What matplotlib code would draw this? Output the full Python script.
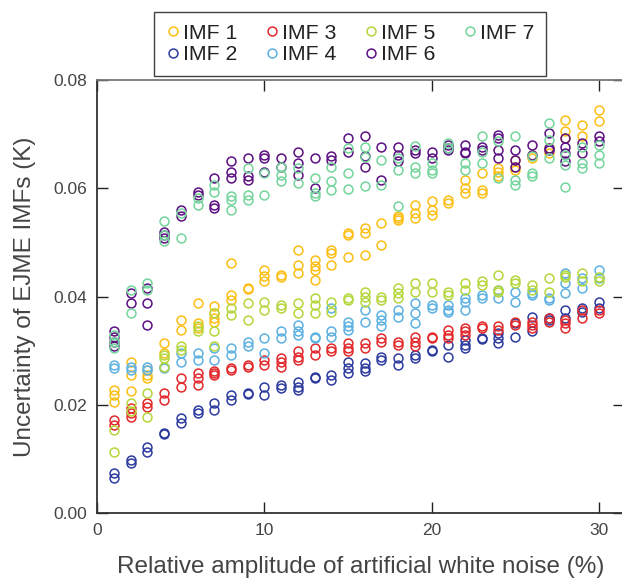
import matplotlib
matplotlib.use("Agg")
import matplotlib.pyplot as plt

plt.rcParams["font.family"] = ["Liberation Sans", "DejaVu Sans"]

# Noise levels (%) at which the ensemble was evaluated
noise_pct = [1, 2, 3, 4, 5, 6, 7, 8, 9, 10, 11, 12, 13, 14, 15,
             16, 17, 18, 19, 20, 21, 22, 23, 24, 25, 26, 27, 28, 29, 30]

# Uncertainty (K) of each IMF, repeated runs per noise level
imf1 = [
    [0.0228, 0.0219, 0.0206], [0.0280, 0.0256, 0.0225], [0.0265, 0.0256, 0.0250],
    [0.0315, 0.0296], [0.0357, 0.0339], [0.0389, 0.0352, 0.0342],
    [0.0382, 0.0370, 0.0361, 0.0354], [0.0462, 0.0403, 0.0394], [0.0416, 0.0414],
    [0.0450, 0.0438, 0.0428], [0.0440, 0.0437], [0.0486, 0.0459, 0.0444],
    [0.0468, 0.0456, 0.0450, 0.0431], [0.0486, 0.0481, 0.0459], [0.0518, 0.0514, 0.0474],
    [0.0527, 0.0518, 0.0477], [0.0536, 0.0496], [0.0548, 0.0545, 0.0542],
    [0.0570, 0.0555, 0.0546], [0.0576, 0.0560, 0.0551], [0.0579, 0.0573],
    [0.0616, 0.0601, 0.0592], [0.0629, 0.0597, 0.0592], [0.0638, 0.0631, 0.0622],
    [0.0653, 0.0640, 0.0634], [0.0662, 0.0656], [0.0675, 0.0665],
    [0.0727, 0.0705, 0.0693], [0.0717, 0.0696], [0.0745, 0.0724],
]
imf2 = [
    [0.0074, 0.0065], [0.0098, 0.0093], [0.0123, 0.0114], [0.0148, 0.0146],
    [0.0176, 0.0167], [0.0191, 0.0185], [0.0204, 0.0191], [0.0219, 0.0209],
    [0.0222, 0.0220], [0.0234, 0.0219], [0.0237, 0.0232], [0.0243, 0.0234, 0.0228],
    [0.0252, 0.0250], [0.0256, 0.0246], [0.0280, 0.0268, 0.0259],
    [0.0278, 0.0268, 0.0262], [0.0289, 0.0283], [0.0287, 0.0274], [0.0292, 0.0287],
    [0.0302, 0.0299], [0.0311, 0.0289], [0.0320, 0.0311, 0.0305], [0.0324, 0.0322],
    [0.0333, 0.0324, 0.0315], [0.0352, 0.0326], [0.0363, 0.0336], [0.0361, 0.0357],
    [0.0376, 0.0361], [0.0379, 0.0372], [0.0391, 0.0379],
]
imf3 = [
    [0.0172, 0.0163], [0.0195, 0.0185, 0.0178], [0.0204, 0.0197], [0.0222, 0.0209],
    [0.0250, 0.0234], [0.0259, 0.0250, 0.0237], [0.0262, 0.0259, 0.0256],
    [0.0268, 0.0265], [0.0274, 0.0271], [0.0283, 0.0274], [0.0287, 0.0280, 0.0271],
    [0.0299, 0.0289, 0.0283], [0.0305, 0.0292], [0.0305, 0.0299],
    [0.0315, 0.0305, 0.0299], [0.0315, 0.0305], [0.0324, 0.0317], [0.0317, 0.0311],
    [0.0326, 0.0317, 0.0308], [0.0326, 0.0324], [0.0339, 0.0329, 0.0324],
    [0.0342, 0.0336, 0.0329], [0.0345, 0.0342], [0.0345, 0.0339], [0.0354, 0.0348],
    [0.0354, 0.0348, 0.0342], [0.0361, 0.0354], [0.0357, 0.0352, 0.0342],
    [0.0376, 0.0361], [0.0376, 0.0370],
]
imf4 = [
    [0.0274, 0.0268], [0.0271, 0.0265], [0.0271, 0.0265], [0.0271, 0.0268],
    [0.0296, 0.0280], [0.0296, 0.0283], [0.0305, 0.0283], [0.0305, 0.0292],
    [0.0317, 0.0308], [0.0324, 0.0296], [0.0336, 0.0324], [0.0348, 0.0336, 0.0329],
    [0.0326, 0.0324], [0.0379, 0.0336, 0.0326], [0.0354, 0.0345, 0.0339],
    [0.0376, 0.0354], [0.0366, 0.0357, 0.0345], [0.0376, 0.0363],
    [0.0389, 0.0370, 0.0352], [0.0385, 0.0379], [0.0385, 0.0376, 0.0372],
    [0.0398, 0.0391, 0.0376], [0.0403, 0.0398], [0.0413, 0.0398], [0.0409, 0.0391],
    [0.0407, 0.0403], [0.0398, 0.0394], [0.0444, 0.0426, 0.0407], [0.0435, 0.0416],
    [0.0450, 0.0435],
]
imf5 = [
    [0.0154, 0.0114], [0.0204, 0.0188], [0.0222, 0.0178], [0.0292, 0.0287, 0.0271],
    [0.0308, 0.0302], [0.0345, 0.0336], [0.0370, 0.0336, 0.0308], [0.0379, 0.0366],
    [0.0389, 0.0357], [0.0391, 0.0376], [0.0385, 0.0379], [0.0388, 0.0370],
    [0.0398, 0.0385, 0.0370], [0.0391, 0.0372], [0.0398, 0.0394],
    [0.0409, 0.0400, 0.0391], [0.0400, 0.0394], [0.0416, 0.0407, 0.0398],
    [0.0426, 0.0409], [0.0426, 0.0409], [0.0409, 0.0403], [0.0426, 0.0413],
    [0.0428, 0.0422], [0.0440, 0.0413, 0.0409], [0.0431, 0.0426], [0.0422, 0.0413],
    [0.0435, 0.0409], [0.0440, 0.0437], [0.0444, 0.0428], [0.0437, 0.0428],
]
imf6 = [
    [0.0336, 0.0326, 0.0317, 0.0308], [0.0406, 0.0388], [0.0416, 0.0389, 0.0348],
    [0.0520, 0.0514, 0.0508], [0.0560, 0.0548], [0.0594, 0.0588],
    [0.0619, 0.0570, 0.0564], [0.0650, 0.0631, 0.0619], [0.0656, 0.0622, 0.0616],
    [0.0662, 0.0656, 0.0631], [0.0656, 0.0640], [0.0668, 0.0647, 0.0625],
    [0.0656, 0.0601], [0.0659, 0.0653], [0.0693, 0.0668], [0.0696, 0.0659, 0.0640],
    [0.0677, 0.0616], [0.0677, 0.0662, 0.0650], [0.0671, 0.0665], [0.0668, 0.0656],
    [0.0680, 0.0674, 0.0671], [0.0680, 0.0668, 0.0666], [0.0677, 0.0671],
    [0.0699, 0.0693, 0.0671, 0.0656], [0.0671, 0.0653, 0.0640], [0.0680, 0.0662],
    [0.0703, 0.0675, 0.0671], [0.0693, 0.0677, 0.0666, 0.0650], [0.0684, 0.0666],
    [0.0696, 0.0687],
]
imf7 = [
    [0.0329, 0.0317, 0.0305], [0.0413, 0.0370], [0.0425, 0.0413],
    [0.0539, 0.0514, 0.0502], [0.0555, 0.0509], [0.0583, 0.0570], [0.0607, 0.0594],
    [0.0585, 0.0579, 0.0560], [0.0638, 0.0588, 0.0579], [0.0629, 0.0588],
    [0.0640, 0.0625, 0.0613], [0.0638, 0.0610], [0.0619, 0.0592, 0.0585],
    [0.0640, 0.0613, 0.0597], [0.0675, 0.0629, 0.0599], [0.0677, 0.0658, 0.0605],
    [0.0653, 0.0607], [0.0656, 0.0634, 0.0568], [0.0679, 0.0640, 0.0629],
    [0.0647, 0.0634, 0.0629], [0.0684, 0.0675], [0.0647, 0.0634],
    [0.0696, 0.0668, 0.0647], [0.0687, 0.0619], [0.0696, 0.0616, 0.0607],
    [0.0659, 0.0629, 0.0622], [0.0721, 0.0690, 0.0656], [0.0662, 0.0644, 0.0603],
    [0.0677, 0.0647, 0.0638], [0.0680, 0.0662, 0.0647],
]

series = [imf1, imf2, imf3, imf4, imf5, imf6, imf7]
labels = ["IMF 1", "IMF 2", "IMF 3", "IMF 4", "IMF 5", "IMF 6", "IMF 7"]
colors = ["#FDBE14", "#2C3B9E", "#E3282B", "#5CB1E2", "#B4D63C", "#5B0F82", "#74D59C"]

x_ticks = [0, 10, 20, 30]
y_ticks = [0.00, 0.02, 0.04, 0.06, 0.08]

fig = plt.figure(figsize=(6.22, 5.79), dpi=100)
ax = fig.add_axes([0.1564, 0.1135, 0.8465, 0.7483])

for vals, lab, col in zip(series, labels, colors):
    xs = [n for n, runs in zip(noise_pct, vals) for _ in runs]
    ys = [v for runs in vals for v in runs]
    ax.plot(xs, ys, linestyle="none", marker="o", markersize=6.4,
            markerfacecolor="none", markeredgecolor=col, markeredgewidth=1.1,
            label=lab)

ax.set_xlim(0, 31.5)
ax.set_ylim(0, 0.08)
ax.set_xticks(x_ticks)
ax.set_yticks(y_ticks)
ax.set_yticklabels([f"{v:.2f}" for v in y_ticks])
ax.tick_params(direction="in", length=8, width=1.0, color="#222",
               top=True, right=True, labelsize=12.5, labelcolor="#444",
               pad=7)

for side in ["left", "bottom"]:
    ax.spines[side].set_color("#333")
    ax.spines[side].set_linewidth(1.3)
for side in ["top", "right"]:
    ax.spines[side].set_color("#777")
    ax.spines[side].set_linewidth(1.3)

ax.set_xlabel("Relative amplitude of artificial white noise (%)",
              fontsize=17.5, color="#444")
ax.set_ylabel("Uncertainty of EJME IMFs (K)", fontsize=17.5, color="#444")
ax.xaxis.set_label_coords(0.5, -0.098)
ax.yaxis.set_label_coords(-0.1165, 0.5)

leg = fig.legend(loc="upper center", bbox_to_anchor=(0.5627, 0.979), ncol=4,
                 fontsize=15.3, frameon=True, fancybox=False, edgecolor="#111",
                 handlelength=0.7, handletextpad=0.15, columnspacing=1.25,
                 labelspacing=0.1, borderpad=0.55, borderaxespad=0)
leg.get_frame().set_linewidth(1.0)
for t in leg.get_texts():
    t.set_color("#222")

fig.savefig("out.png", dpi=100)
